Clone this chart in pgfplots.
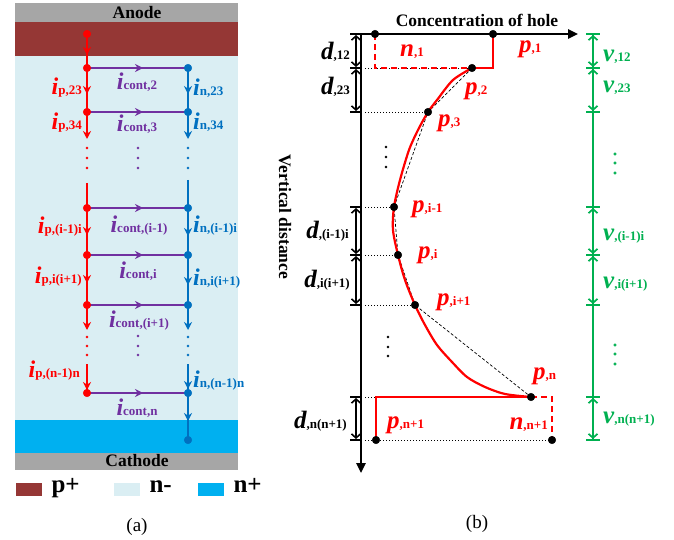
\documentclass[border=0pt]{standalone}
\usepackage{pgfplots}
\pgfplotsset{compat=1.18}
\usepackage{fontspec}
\setmainfont{Liberation Serif}
\usetikzlibrary{arrows.meta}
\definecolor{agray}{HTML}{A6A6A6}
\definecolor{pplus}{HTML}{953735}
\definecolor{nminus}{HTML}{DAEEF3}
\definecolor{nplus}{HTML}{00B0F0}
\definecolor{cred}{HTML}{FF0000}
\definecolor{cpur}{HTML}{7030A0}
\definecolor{cblu}{HTML}{0070C0}
\definecolor{cgrn}{HTML}{00B050}
\newcommand{\BL}[4]{{\fontsize{#1}{#1}\selectfont\bfseries\itshape #3}{\fontsize{#2}{#2}\selectfont\bfseries #4}}
\newcommand{\IA}[1]{\BL{24}{13}{i}{#1}}
\newcommand{\LB}[2]{\BL{25}{13}{#1}{#2}}
\newcommand{\TT}{\fontsize{17.5}{17.5}\selectfont\bfseries}
\tikzset{
 arr/.style={-{Stealth[length=8pt,width=8pt]}},
 dimar/.style={{Straight Barb[length=4pt,width=9pt]}-{Straight Barb[length=4pt,width=9pt]}},
 lw/.style={line width=2.6pt},
 dotl/.style={black,line width=0.8pt,dash pattern=on 1pt off 2pt},
}
\begin{document}
\begin{tikzpicture}
\begin{axis}[width=674pt,height=540pt,scale only axis,xmin=0,xmax=674,ymin=0,ymax=540,y dir=reverse,hide axis,clip=false]
% frame for bounding box (invisible)
\addplot[draw=none] coordinates {(0,0)(674,540)};
% ---------------- panel (a) backgrounds
\addplot[draw=none,fill=agray] coordinates {(15,3)(238,3)(238,22)(15,22)};
\addplot[draw=none,fill=pplus] coordinates {(15,22)(238,22)(238,56)(15,56)};
\addplot[draw=none,fill=nminus] coordinates {(15,56)(238,56)(238,420)(15,420)};
\addplot[draw=none,fill=nplus] coordinates {(15,420)(238,420)(238,453)(15,453)};
\addplot[draw=none,fill=agray] coordinates {(15,453)(238,453)(238,470)(15,470)};
\node[font=\TT] at (axis cs:137,13) {Anode};
\node[font=\TT] at (axis cs:137,461) {Cathode};
% legend
\addplot[draw=none,fill=pplus] coordinates {(16,483)(42,483)(42,496)(16,496)};
\addplot[draw=none,fill=nminus] coordinates {(114,483)(140,483)(140,496)(114,496)};
\addplot[draw=none,fill=nplus] coordinates {(198,483)(224,483)(224,496)(198,496)};
\node[anchor=base west,font=\fontsize{25}{25}\selectfont\bfseries] at (axis cs:48,492) {p+};
\node[anchor=base west,font=\fontsize{25}{25}\selectfont\bfseries] at (axis cs:146,492) {n-};
\node[anchor=base west,font=\fontsize{25}{25}\selectfont\bfseries] at (axis cs:230,492) {n+};
\node[font=\fontsize{19}{19}\selectfont] at (axis cs:137,527) {(a)};
% red line
\addplot[cred,lw,arr] coordinates {(87,34)(87,55)};
\addplot[cred,lw] coordinates {(87,53)(87,68)};
\addplot[cred,lw,arr] coordinates {(87,68)(87,94)};
\addplot[cred,lw] coordinates {(87,92)(87,112)};
\addplot[cred,lw,arr] coordinates {(87,112)(87,139)};
\addplot[cred,lw] coordinates {(87,183)(87,208)};
\addplot[cred,lw,arr] coordinates {(87,208)(87,235)};
\addplot[cred,lw] coordinates {(87,233)(87,255)};
\addplot[cred,lw,arr] coordinates {(87,255)(87,283)};
\addplot[cred,lw] coordinates {(87,281)(87,305)};
\addplot[cred,lw,arr] coordinates {(87,305)(87,330)};
\addplot[cred,lw,arr] coordinates {(87,364)(87,390)};
\addplot[cred,lw] coordinates {(87,388)(87,393)};
% blue line
\addplot[cblu,lw,arr] coordinates {(188,68)(188,94)};
\addplot[cblu,lw] coordinates {(188,92)(188,112)};
\addplot[cblu,lw,arr] coordinates {(188,112)(188,139)};
\addplot[cblu,lw] coordinates {(188,180)(188,208)};
\addplot[cblu,lw,arr] coordinates {(188,208)(188,236)};
\addplot[cblu,lw] coordinates {(188,234)(188,255)};
\addplot[cblu,lw,arr] coordinates {(188,255)(188,285)};
\addplot[cblu,lw] coordinates {(188,283)(188,305)};
\addplot[cblu,lw,arr] coordinates {(188,305)(188,330)};
\addplot[cblu,lw,arr] coordinates {(188,364)(188,389)};
\addplot[cblu,lw] coordinates {(188,387)(188,393)};
\addplot[cblu,lw,arr] coordinates {(188,393)(188,421)};
\addplot[cblu,lw] coordinates {(188,419)(188,440)};
% purple rows
\addplot[cpur,lw,arr] coordinates {(87,68)(143,68)};
\addplot[cpur,lw] coordinates {(141,68)(188,68)};
\addplot[cpur,lw,arr] coordinates {(87,112)(143,112)};
\addplot[cpur,lw] coordinates {(141,112)(188,112)};
\addplot[cpur,lw,arr] coordinates {(87,208)(143,208)};
\addplot[cpur,lw] coordinates {(141,208)(188,208)};
\addplot[cpur,lw,arr] coordinates {(87,255)(143,255)};
\addplot[cpur,lw] coordinates {(141,255)(188,255)};
\addplot[cpur,lw,arr] coordinates {(87,305)(143,305)};
\addplot[cpur,lw] coordinates {(141,305)(188,305)};
\addplot[cpur,lw,arr] coordinates {(87,393)(143,393)};
\addplot[cpur,lw] coordinates {(141,393)(188,393)};
% dots
\addplot[only marks,mark=*,mark size=3.8pt,color=cred] coordinates {(87,34)(87,68)(87,112)(87,208)(87,255)(87,305)(87,393)};
\addplot[only marks,mark=*,mark size=3.8pt,color=cblu] coordinates {(188,68)(188,112)(188,208)(188,255)(188,305)(188,393)(188,440)};
\addplot[only marks,mark=*,mark size=1.2pt,color=cred] coordinates {(87,148)(87,158)(87,168)(87,337)(87,346)(87,355)};
\addplot[only marks,mark=*,mark size=1.2pt,color=cpur] coordinates {(138,148)(138,158)(138,168)(138,336)(138,346)(138,355)};
\addplot[only marks,mark=*,mark size=1.2pt,color=cblu] coordinates {(188,148)(188,158)(188,168)(188,337)(188,346)(188,355)};
% labels (a)
\node[anchor=base east,text=cred,inner sep=0pt] at (axis cs:82,95) {\IA{p,23}};
\node[anchor=base east,text=cred,inner sep=0pt] at (axis cs:82,130) {\IA{p,34}};
\node[anchor=base east,text=cred,inner sep=0pt] at (axis cs:82,233) {\IA{p,(i-1)i}};
\node[anchor=base east,text=cred,inner sep=0pt] at (axis cs:82,283) {\IA{p,i(i+1)}};
\node[anchor=base east,text=cred,inner sep=0pt] at (axis cs:80,377) {\IA{p,(n-1)n}};
\node[anchor=base west,text=cblu,inner sep=0pt] at (axis cs:193,96) {\IA{n,23}};
\node[anchor=base west,text=cblu,inner sep=0pt] at (axis cs:193,130) {\IA{n,34}};
\node[anchor=base west,text=cblu,inner sep=0pt] at (axis cs:193,232) {\IA{n,(i-1)i}};
\node[anchor=base west,text=cblu,inner sep=0pt] at (axis cs:193,285) {\IA{n,i(i+1)}};
\node[anchor=base west,text=cblu,inner sep=0pt] at (axis cs:193,387) {\IA{n,(n-1)n}};
\node[anchor=base,text=cpur,inner sep=0pt] at (axis cs:137,90) {\IA{cont,2}};
\node[anchor=base,text=cpur,inner sep=0pt] at (axis cs:137,132) {\IA{cont,3}};
\node[anchor=base,text=cpur,inner sep=0pt] at (axis cs:139,232) {\IA{cont,(i-1)}};
\node[anchor=base,text=cpur,inner sep=0pt] at (axis cs:138,278) {\IA{cont,i}};
\node[anchor=base,text=cpur,inner sep=0pt] at (axis cs:139,327) {\IA{cont,(i+1)}};
\node[anchor=base,text=cpur,inner sep=0pt] at (axis cs:137,415) {\IA{cont,n}};
% ---------------- panel (b)
\node[anchor=base,font=\TT] at (axis cs:477,27) {Concentration of hole};
\node[rotate=-90,font=\TT] at (axis cs:285,217) {Vertical distance};
\node[font=\fontsize{19}{19}\selectfont] at (axis cs:477,524) {(b)};
% dotted guides
\addplot[dotl] coordinates {(365,68)(472,68)};
\addplot[dotl] coordinates {(365,112)(428,112)};
\addplot[dotl] coordinates {(365,207)(394,207)};
\addplot[dotl] coordinates {(365,255)(398,255)};
\addplot[dotl] coordinates {(365,305)(415,305)};
\addplot[dotl] coordinates {(365,397)(376,397)};
\addplot[dotl] coordinates {(365,440)(552,440)};
% chords
\addplot[black,line width=0.7pt,dash pattern=on 3pt off 2pt] coordinates {(472,68)(428,112)(394,207)(398,255)(415,305)(531,397)};
% red profile
\addplot[cred,line width=2.2pt,smooth,tension=0.5] coordinates {(472,68)(453,80)(437,100)(428,112)(418,130)(409,150)(400,180)(394,207)(393,230)(398,255)(405,280)(415,305)(425,325)(437,345)(452,362)(467,377)(485,387)(505,394)(531,397)};
\addplot[cred,line width=2.2pt] coordinates {(493,34)(493,68)(472,68)};
\addplot[cred,line width=2.2pt] coordinates {(531,397)(376,397)(376,440)};
\addplot[cred,line width=1.8pt,dash pattern=on 6pt off 4pt] coordinates {(375,34)(375,68)(472,68)};
\addplot[cred,line width=1.8pt,dash pattern=on 6pt off 4pt] coordinates {(531,397)(552,397)(552,440)};
% axes
\addplot[black,line width=2.4pt,-{Triangle[length=10pt,width=9pt]}] coordinates {(361,34)(578,34)};
\addplot[black,line width=2.4pt,-{Triangle[length=10pt,width=9pt]}] coordinates {(361,34)(361,473)};
% d dimensions
\addplot[black,line width=1.6pt,dimar] coordinates {(356,35)(356,67)};
\addplot[black,line width=1.6pt,dimar] coordinates {(356,69)(356,111)};
\addplot[black,line width=1.6pt,dimar] coordinates {(356,208)(356,254)};
\addplot[black,line width=1.6pt,dimar] coordinates {(356,256)(356,304)};
\addplot[black,line width=1.6pt,dimar] coordinates {(356,398)(356,439)};
\addplot[black,line width=1.6pt] coordinates {(350,34)(362,34)};
\addplot[black,line width=1.6pt] coordinates {(350,68)(362,68)};
\addplot[black,line width=1.6pt] coordinates {(350,112)(362,112)};
\addplot[black,line width=1.6pt] coordinates {(350,207)(362,207)};
\addplot[black,line width=1.6pt] coordinates {(350,255)(362,255)};
\addplot[black,line width=1.6pt] coordinates {(350,305)(362,305)};
\addplot[black,line width=1.6pt] coordinates {(350,397)(362,397)};
\addplot[black,line width=1.6pt] coordinates {(350,440)(362,440)};
% green dimensions
\addplot[cgrn,line width=1.7pt] coordinates {(593,34)(593,440)};
\addplot[cgrn,line width=1.7pt,dimar] coordinates {(593,35)(593,67)};
\addplot[cgrn,line width=1.7pt,dimar] coordinates {(593,69)(593,111)};
\addplot[cgrn,line width=1.7pt,dimar] coordinates {(593,208)(593,254)};
\addplot[cgrn,line width=1.7pt,dimar] coordinates {(593,256)(593,304)};
\addplot[cgrn,line width=1.7pt,dimar] coordinates {(593,398)(593,439)};
\addplot[cgrn,line width=1.7pt] coordinates {(586,34)(600,34)};
\addplot[cgrn,line width=1.7pt] coordinates {(586,68)(600,68)};
\addplot[cgrn,line width=1.7pt] coordinates {(586,112)(600,112)};
\addplot[cgrn,line width=1.7pt] coordinates {(586,207)(600,207)};
\addplot[cgrn,line width=1.7pt] coordinates {(586,255)(600,255)};
\addplot[cgrn,line width=1.7pt] coordinates {(586,305)(600,305)};
\addplot[cgrn,line width=1.7pt] coordinates {(586,397)(600,397)};
\addplot[cgrn,line width=1.7pt] coordinates {(586,440)(600,440)};
% dots (b)
\addplot[only marks,mark=*,mark size=3.8pt,color=black] coordinates {(375,34)(493,34)(472,68)(428,112)(394,207)(398,255)(415,305)(531,397)(376,440)(552,440)};
\addplot[only marks,mark=*,mark size=1.1pt,color=black] coordinates {(386,147)(386,157)(386,167)(388,337)(388,347)(388,356)};
\addplot[only marks,mark=*,mark size=1.3pt,color=cgrn] coordinates {(615,154)(615,163)(615,173)(615,345)(615,354)(615,364)};
% labels (b)
\node[anchor=base east,inner sep=0pt] at (axis cs:350,60) {\LB{d}{,12}};
\node[anchor=base east,inner sep=0pt] at (axis cs:350,95) {\LB{d}{,23}};
\node[anchor=base east,inner sep=0pt] at (axis cs:349,238) {\LB{d}{,(i-1)i}};
\node[anchor=base east,inner sep=0pt] at (axis cs:350,287) {\LB{d}{,i(i+1)}};
\node[anchor=base east,inner sep=0pt] at (axis cs:347,428) {\LB{d}{,n(n+1)}};
\node[anchor=base west,text=cred,inner sep=0pt] at (axis cs:400,57) {\LB{n}{,1}};
\node[anchor=base west,text=cred,inner sep=0pt] at (axis cs:519,53) {\LB{p}{,1}};
\node[anchor=base west,text=cred,inner sep=0pt] at (axis cs:465,95) {\LB{p}{,2}};
\node[anchor=base west,text=cred,inner sep=0pt] at (axis cs:438,127) {\LB{p}{,3}};
\node[anchor=base west,text=cred,inner sep=0pt] at (axis cs:412,212) {\LB{p}{,i-1}};
\node[anchor=base west,text=cred,inner sep=0pt] at (axis cs:418,258) {\LB{p}{,i}};
\node[anchor=base west,text=cred,inner sep=0pt] at (axis cs:437,305) {\LB{p}{,i+1}};
\node[anchor=base west,text=cred,inner sep=0pt] at (axis cs:533,379) {\LB{p}{,n}};
\node[anchor=base west,text=cred,inner sep=0pt] at (axis cs:387,428) {\LB{p}{,n+1}};
\node[anchor=base east,text=cred,inner sep=0pt] at (axis cs:548,429) {\LB{n}{,n+1}};
\node[anchor=base west,text=cgrn,inner sep=0pt] at (axis cs:603,62) {\LB{v}{,12}};
\node[anchor=base west,text=cgrn,inner sep=0pt] at (axis cs:603,93) {\LB{v}{,23}};
\node[anchor=base west,text=cgrn,inner sep=0pt] at (axis cs:603,240) {\LB{v}{,(i-1)i}};
\node[anchor=base west,text=cgrn,inner sep=0pt] at (axis cs:603,288) {\LB{v}{,i(i+1)}};
\node[anchor=base west,text=cgrn,inner sep=0pt] at (axis cs:603,423) {\LB{v}{,n(n+1)}};
\end{axis}
\end{tikzpicture}
\end{document}
